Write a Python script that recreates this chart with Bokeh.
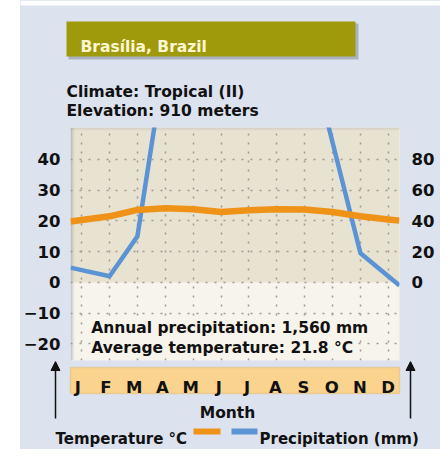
from bokeh.plotting import figure
from bokeh.layouts import row, column
from bokeh.models import (Range1d, LinearAxis, FixedTicker, BoxAnnotation, Label,
                          Arrow, NormalHead, Spacer)
from bokeh.core.properties import value
from bokeh.embed import file_html
from bokeh.resources import INLINE

# ---- data ----
months = ["J", "F", "M", "A", "M", "J", "J", "A", "S", "O", "N", "D"]
temperature_c = [20.3, 21.5, 23.6, 24.1, 23.8, 22.9, 23.5, 23.8, 23.7, 22.9, 21.5, 20.5]
precipitation_mm = [8, 4, 30, 147, 210, 240, 245, 230, 163, 91, 19, 4]
temp_ticks = [-20, -10, 0, 10, 20, 30, 40]
precip_ticks = [0, 20, 40, 60, 80]

FONT = "DejaVu Sans"
FS = "15.5px"
INK = "#111111"
PANEL = "#DCE2EE"
ORANGE = "#EE9318"
BLUE = "#5B93D4"

W, H = 440, 449
LEFT_WHITE = 20
X0, X1 = -0.4, 11.4
Y0, Y1 = -25.4, 50.4
FL, FR, FT, FB = 66, 399, 127, 360      # plot frame in page pixels
H_TOP = 119                              # header height
F_TOP = 361                              # footer starts here
KX = (FR - FL) / (X1 - X0)               # pixels per month


def txt(x, y, t, **kw):
    d = dict(x=x, y=y, text=t, text_font=FONT, text_font_style="bold", text_font_size=FS,
             text_color=INK, text_baseline="alphabetic")
    d.update(kw)
    return Label(**d)


def deco_fig(top, bottom):
    """figure whose frame covers the whole canvas; data coords = page pixels"""
    f = figure(width=W - LEFT_WHITE, height=bottom - top, output_backend="svg",
               toolbar_location=None, x_axis_location=None, y_axis_location=None,
               x_range=Range1d(LEFT_WHITE, W), y_range=Range1d(bottom, top), min_border=0,
               frame_align=False)
    f.border_fill_color = PANEL
    f.background_fill_color = PANEL
    f.outline_line_color = None
    f.grid.visible = False
    return f


# ---------------- header ----------------
hd = deco_fig(0, H_TOP)
hd.add_layout(BoxAnnotation(left=LEFT_WHITE, right=W, top=0, bottom=5, fill_color="white",
                            fill_alpha=1, line_color=None, level="underlay"))
hd.add_layout(BoxAnnotation(left=68, right=358, top=23, bottom=59, fill_color="#6E7885",
                            fill_alpha=0.45, line_color=None))
hd.add_layout(BoxAnnotation(left=66, right=355, top=21, bottom=56, fill_color="#9E9A0C",
                            fill_alpha=1, line_color=None))
hd.add_layout(txt(80, 46, "Bras\u00edlia, Brazil", text_color="#FFF6D2"))
hd.add_layout(txt(66, 91, "Climate: Tropical (II)"))
hd.add_layout(txt(66, 110, "Elevation: 910 meters"))

# ---------------- chart ----------------
p = figure(width=W - LEFT_WHITE, height=F_TOP - H_TOP, output_backend="svg", toolbar_location=None,
           x_range=Range1d(X0, X1), y_range=Range1d(Y0, Y1), x_axis_location=None,
           min_border_left=FL - LEFT_WHITE, min_border_right=W - FR,
           min_border_top=FT - H_TOP, min_border_bottom=F_TOP - FB, frame_align=False)
p.extra_y_ranges = {"precip": Range1d(2 * Y0, 2 * Y1)}
p.border_fill_color = PANEL
p.background_fill_color = "#F7F4EB"
p.outline_line_color = None


def cx(px):
    return X0 + (px - FL) / KX


def cy(py):
    return Y1 - (py - FT) * (Y1 - Y0) / (FB - FT)


p.add_layout(BoxAnnotation(bottom=0, fill_color="#E8E2D1", fill_alpha=1, line_color=None, level="image"))
for i, a in enumerate([0.45, 0.3, 0.16, 0.07]):
    p.add_layout(BoxAnnotation(left=cx(FL + i), right=cx(FL + i + 1), fill_color="#6F7F98",
                               fill_alpha=a, line_color=None, level="image"))
for i, a in enumerate([0.22, 0.14, 0.07]):
    p.add_layout(BoxAnnotation(top=cy(FT + i), bottom=cy(FT + i + 1), fill_color="#8A8F98",
                               fill_alpha=a, line_color=None, level="image"))

p.xgrid.ticker = FixedTicker(ticks=list(range(12)))
p.ygrid.ticker = FixedTicker(ticks=temp_ticks)
for g in (p.xgrid, p.ygrid):
    g.grid_line_color = "#9C9A94"
    g.grid_line_dash = "2 7"
    g.grid_line_width = 1.5

lab_style = dict(major_label_text_font=FONT, major_label_text_font_style="bold",
                 major_label_text_font_size="16.5px", major_label_text_color=INK,
                 axis_line_color=None, major_tick_line_color=None, minor_tick_line_color=None)
ya = p.yaxis[0]
ya.ticker = FixedTicker(ticks=temp_ticks)
ya.major_label_overrides = {t: (("\u2212" + str(-t)) if t < 0 else str(t)) for t in temp_ticks}
ya.major_label_standoff = 4
for k, v in lab_style.items():
    setattr(ya, k, v)

ra = LinearAxis(y_range_name="precip", ticker=FixedTicker(ticks=precip_ticks), major_label_standoff=6)
for k, v in lab_style.items():
    setattr(ra, k, v)
p.add_layout(ra, "right")

xs = list(range(12))


def extend(vals):
    left = vals[0] + (vals[0] - vals[1]) * (0 - X0)
    right = vals[-1] + (vals[-1] - vals[-2]) * (X1 - 11)
    return [X0] + xs + [X1], [left] + list(vals) + [right]


px_, py_ = extend(precipitation_mm)
p.line(px_, py_, y_range_name="precip", line_color=BLUE, line_width=4.5, line_join="miter")
tx_, ty_ = extend(temperature_c)
p.line(tx_, ty_, line_color=ORANGE, line_width=6.5, line_join="round")

for t, base in [("Annual precipitation: 1,560 mm", 327), ("Average temperature: 21.8 \u00b0C", 347)]:
    p.add_layout(txt(cx(87), cy(base), t, background_fill_color="#F7F4EB", background_fill_alpha=1))

# ---------------- footer ----------------
ft = deco_fig(F_TOP, H)
ft.extra_x_ranges = {"m": Range1d(X0 - (FL - LEFT_WHITE) / KX, X1 + (W - FR) / KX)}
ft.add_layout(BoxAnnotation(left=70, right=399, top=367, bottom=393, fill_color="#FAD48E",
                            fill_alpha=1, line_color="#E2A23C", line_width=1.5, level="underlay"))
ft.text(x=xs, y=[387] * len(xs), text=months, x_range_name="m", text_font=value(FONT),
        text_font_style="bold", text_font_size="16.5px", text_color=INK, text_align="center",
        text_baseline="alphabetic")
ft.add_layout(txt(227, 412, "Month", text_align="center"))
for ax in (55, 410):
    ft.add_layout(Arrow(x_start=ax, y_start=418, x_end=ax, y_end=F_TOP, line_color=INK, line_width=1.5,
                        end=NormalHead(size=9, fill_color=INK, line_color=INK)))
ft.add_layout(txt(55, 438, "Temperature \u00b0C", text_font_size="15px"))
ft.add_layout(BoxAnnotation(left=193, right=220, top=428, bottom=434, fill_color=ORANGE,
                            fill_alpha=1, line_color=None))
ft.add_layout(BoxAnnotation(left=231, right=257, top=428, bottom=434, fill_color=BLUE,
                            fill_alpha=1, line_color=None))
ft.add_layout(txt(259, 438, "Precipitation (mm)", text_font_size="15px"))

col = column(hd, p, ft, spacing=0, styles={"background-color": PANEL})
layout = row(Spacer(width=LEFT_WHITE, height=H), col, spacing=0)
open("out.html", "w").write(file_html(layout, INLINE))
